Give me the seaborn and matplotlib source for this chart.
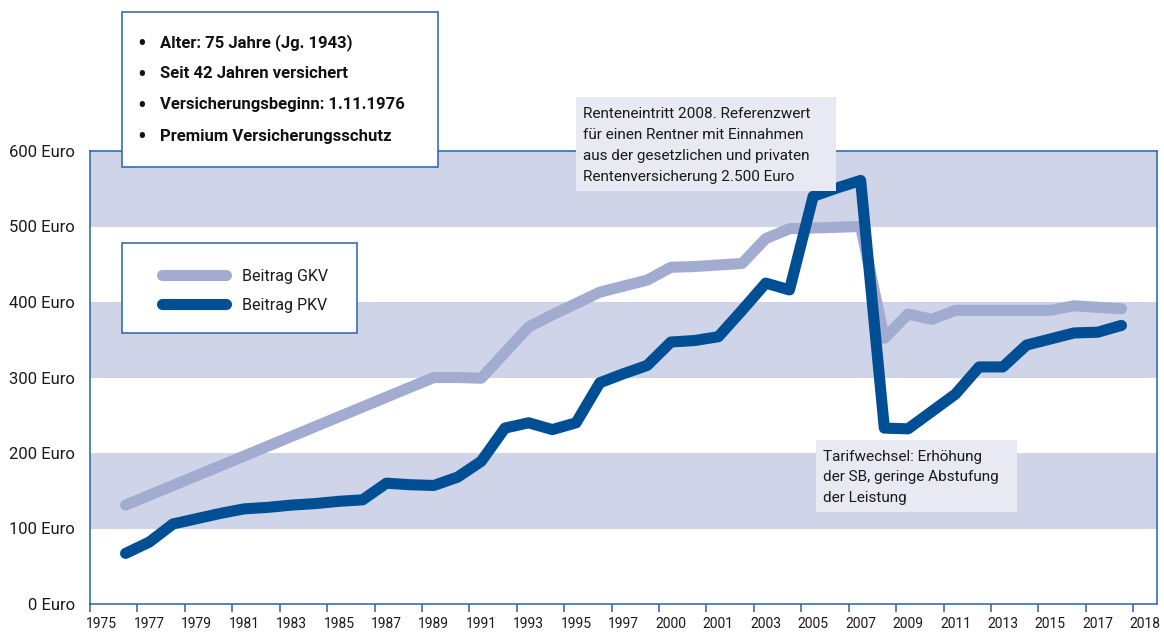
import numpy as np
import matplotlib.pyplot as plt
import seaborn as sns
from matplotlib.patches import Rectangle

# Data (monthly contribution in Euro)
years = [1976, 1977, 1978, 1979, 1980, 1981, 1982, 1983, 1984, 1985,
         1986, 1987, 1988, 1989, 1990, 1991, 1992, 1993, 1994, 1995,
         1996, 1997, 1998, 1999, 2000, 2001, 2002, 2003, 2004, 2005,
         2006, 2007, 2008, 2009, 2010, 2011, 2012, 2013, 2014, 2015,
         2016, 2017, 2018]
beitrag_gkv = [131, 144, 157, 170, 183, 196, 209, 222, 235, 248,
               261, 274, 287, 300, 300, 299, 333, 367, 383, 398,
               413, 421, 429, 446, 447, 449, 451, 484, 497, 498,
               499, 500, 352, 384, 377, 389, 389, 389, 389, 389,
               395, 393, 391]
beitrag_pkv = [67, 82, 106, 113, 120, 126, 128, 131, 133, 136,
               138, 160, 158, 157, 168, 189, 233, 240, 231, 240,
               293, 305, 316, 347, 349, 354, 389, 425, 416, 540,
               551, 561, 233, 232, 255, 278, 314, 314, 343, 351,
               359, 360, 369]

x_labels = ['1975', '1977', '1979', '1981', '1983', '1985', '1987', '1989',
            '1991', '1993', '1995', '1997', '2000', '2001', '2003', '2005',
            '2007', '2009', '2011', '2013', '2015', '2017', '2018']
y_values = [0, 100, 200, 300, 400, 500, 600]
bands = [(100, 200), (300, 400), (500, 600)]

info_lines = ['Alter: 75 Jahre (Jg. 1943)',
              'Seit 42 Jahren versichert',
              'Versicherungsbeginn: 1.11.1976',
              'Premium Versicherungsschutz']
note_rente = ['Renteneintritt 2008. Referenzwert',
              'für einen Rentner mit Einnahmen',
              'aus der gesetzlichen und privaten',
              'Rentenversicherung 2.500 Euro']
note_tarif = ['Tarifwechsel: Erhöhung',
              'der SB, geringe Abstufung',
              'der Leistung']

# Colours
blue_frame = '#2a62a8'
band_col = '#cfd4e8'
gkv_col = '#a2acd0'
pkv_col = '#004f95'
note_fill = '#e8e9f2'

sns.set_theme(style='white')
plt.rcParams['font.family'] = ['Roboto', 'DejaVu Sans']

W, H = 1164, 637
fig = plt.figure(figsize=(W / 100, H / 100), dpi=100)
ax = fig.add_axes([90 / W, 1 - 604 / H, 1067 / W, 453 / H])


def fx(px):
    return px / W


def fy(py):
    return 1 - py / H


for lo, hi in bands:
    ax.axhspan(lo, hi, color=band_col, lw=0, zorder=0)

sns.lineplot(x=years, y=beitrag_gkv, ax=ax, color=gkv_col, lw=8,
             label='Beitrag GKV', solid_capstyle='round',
             solid_joinstyle='round', zorder=3)
sns.lineplot(x=years, y=beitrag_pkv, ax=ax, color=pkv_col, lw=8,
             label='Beitrag PKV', solid_capstyle='round',
             solid_joinstyle='round', zorder=4)

ax.set_xlim(1974.5, 2019.5)
ax.set_ylim(0, 600)
ax.set_xlabel('')
ax.set_ylabel('')

# x axis: tick marks at year boundaries, labels in between
tick_pos = np.arange(1974.5, 2019, 2)
ax.set_xticks(tick_pos)
ax.set_xticklabels([])
ax.set_xticks(tick_pos + 0.5, minor=True)
ax.set_xticklabels(x_labels, minor=True)
ax.tick_params(axis='x', which='major', length=6, width=1.1,
               color=blue_frame, direction='out', bottom=True)
ax.tick_params(axis='x', which='minor', length=0, pad=9,
               labelsize=10, colors='#1a1a1a', bottom=True)

ax.set_yticks(y_values)
ax.set_yticklabels([f'{v} Euro' for v in y_values])
ax.tick_params(axis='y', length=0, pad=11, labelsize=12, labelcolor='#1a1a1a')

for s in ax.spines.values():
    s.set_visible(True)
    s.set_color(blue_frame)
    s.set_linewidth(1.1)

# Legend with separate frame (both inside the axes so the order is right)
leg_frame = Rectangle((fx(122), fy(333)), fx(357) - fx(122), fy(243) - fy(333),
                      transform=fig.transFigure, facecolor='white',
                      edgecolor=blue_frame, lw=1.1, zorder=5, clip_on=False)
ax.add_artist(leg_frame)
leg = ax.legend(loc='upper left', frameon=False, borderpad=0,
                bbox_to_anchor=(fx(154), fy(261)),
                bbox_transform=fig.transFigure,
                handlelength=4.0, handletextpad=1.0, labelspacing=0.85,
                fontsize=11.5)
for t in leg.get_texts():
    t.set_color('#1a1a1a')
leg.set_zorder(6)

# Info box top left
fig.add_artist(Rectangle((fx(122), fy(167)), fx(438) - fx(122), fy(12) - fy(167),
                         transform=fig.transFigure, facecolor='white',
                         edgecolor=blue_frame, lw=1.1, zorder=5))
for i, line in enumerate(info_lines):
    yc = fy(43 + i * 31)
    fig.text(fx(142), yc - 2 / H, '•', ha='center', va='center', fontsize=19,
             color='#111111', zorder=6)
    fig.text(fx(160), yc, line, ha='left', va='center', fontsize=12,
             fontweight='bold', color='#111111', zorder=6)

# Annotation boxes
fig.add_artist(Rectangle((fx(576), fy(191)), fx(836) - fx(576), fy(97) - fy(191),
                         transform=fig.transFigure, facecolor=note_fill,
                         edgecolor='none', zorder=5))
for i, line in enumerate(note_rente):
    fig.text(fx(583), fy(114 + i * 21), line, ha='left', va='center',
             fontsize=11, color='#1a1a1a', zorder=6)

fig.add_artist(Rectangle((fx(816), fy(512)), fx(1017) - fx(816), fy(440) - fy(512),
                         transform=fig.transFigure, facecolor=note_fill,
                         edgecolor='none', zorder=5))
for i, line in enumerate(note_tarif):
    fig.text(fx(823), fy(457 + i * 20.5), line, ha='left', va='center',
             fontsize=11, color='#1a1a1a', zorder=6)

fig.savefig('out.png', dpi=100)
